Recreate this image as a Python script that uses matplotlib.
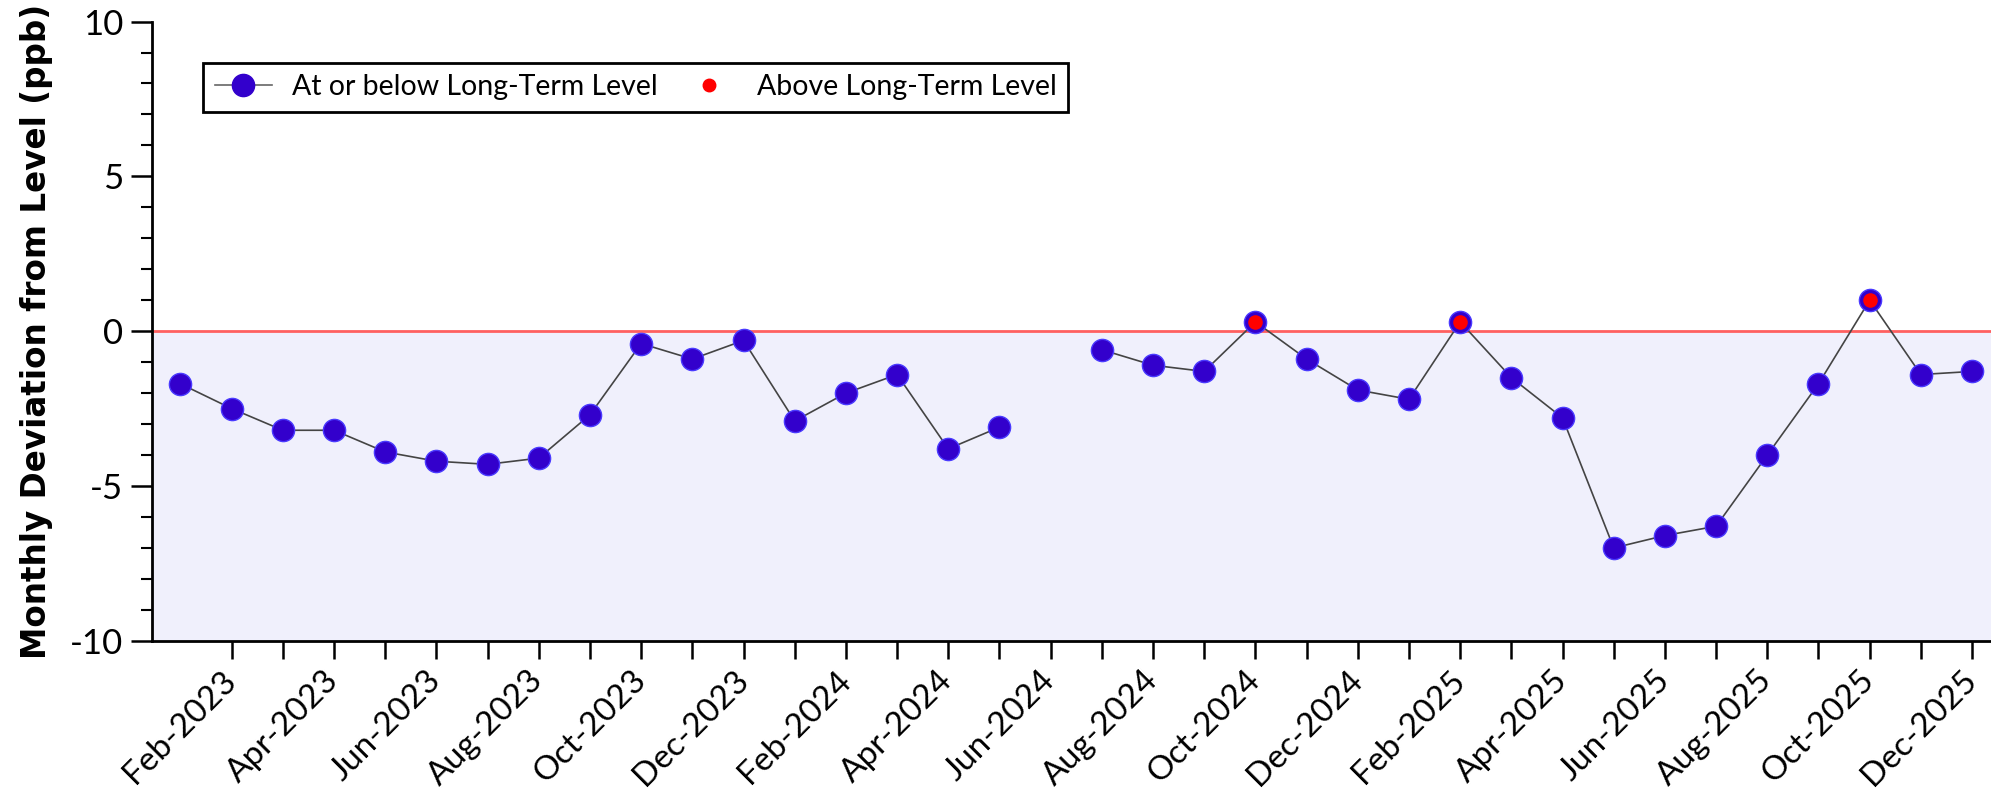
import numpy as np
import matplotlib
matplotlib.use("Agg")
import matplotlib.pyplot as plt
from matplotlib.ticker import MultipleLocator
from matplotlib.lines import Line2D

plt.rcParams["axes.unicode_minus"] = False

# monthly deviation from long-term level (ppb), Jan-2023 .. Dec-2025
months = ["Jan-2023", "Feb-2023", "Mar-2023", "Apr-2023", "May-2023", "Jun-2023",
          "Jul-2023", "Aug-2023", "Sep-2023", "Oct-2023", "Nov-2023", "Dec-2023",
          "Jan-2024", "Feb-2024", "Mar-2024", "Apr-2024", "May-2024", "Jun-2024",
          "Jul-2024", "Aug-2024", "Sep-2024", "Oct-2024", "Nov-2024", "Dec-2024",
          "Jan-2025", "Feb-2025", "Mar-2025", "Apr-2025", "May-2025", "Jun-2025",
          "Jul-2025", "Aug-2025", "Sep-2025", "Oct-2025", "Nov-2025", "Dec-2025"]
deviation = [-1.7, -2.5, -3.2, -3.2, -3.9, -4.2, -4.3, -4.1, -2.7, -0.4, -0.9, -0.3,
             -2.9, -2.0, -1.4, -3.8, -3.1, np.nan, -0.6, -1.1, -1.3, 0.3, -0.9, -1.9,
             -2.2, 0.3, -1.5, -2.8, -7.0, -6.6, -6.3, -4.0, -1.7, 1.0, -1.4, -1.3]

x = np.arange(len(months))
y = np.array(deviation, dtype=float)
above = y > 0

blue = "#3300CC"
fig = plt.figure(figsize=(19.91, 7.99), dpi=100)
ax = fig.add_axes([0.0765, 0.198, 0.9235, 0.775])

# shaded band below the long-term level
ax.axhspan(-10, 0, color="#F0F0FC", zorder=0)
ax.axhline(0, color="#FF6060", lw=2, zorder=1)

ax.plot(x, y, "-", color="#444444", lw=1.2, zorder=2)
ax.plot(x, y, "o", ms=16, color=blue, mec="#4a3aff", mew=1, zorder=3)
ax.plot(x[above], y[above], "o", ms=10.5, color="red", mec="none", zorder=4)

ax.set_xlim(-0.55, 35.37)
ax.set_ylim(-10, 10)

# x ticks every month from Feb-2023, labels every other month
tick_pos = x[1:]
ax.set_xticks(tick_pos)
ax.set_xticklabels([m if i % 2 == 0 else "" for i, m in enumerate(months[1:])],
                   rotation=45, ha="right", va="center", rotation_mode="anchor",
                   fontsize=24, family="Lato")
ax.yaxis.set_major_locator(MultipleLocator(5))
ax.yaxis.set_minor_locator(MultipleLocator(1))
for lab in ax.get_yticklabels():
    lab.set_family("Lato")
ax.tick_params(axis="y", which="major", length=15, width=1.8, labelsize=25, pad=6)
ax.tick_params(axis="y", which="minor", length=8, width=1.5)
ax.tick_params(axis="x", length=13, width=1.8, pad=12)

for s in ["top", "right"]:
    ax.spines[s].set_visible(False)
for s in ["left", "bottom"]:
    ax.spines[s].set_linewidth(2)

ax.set_ylabel("Monthly Deviation from Level (ppb)", fontsize=23.5, fontweight="bold",
              family="DejaVu Sans", labelpad=12)

handles = [Line2D([], [], color="#666666", lw=1.2, marker="o", ms=16, mfc=blue, mec=blue),
           Line2D([], [], ls="none", marker="o", ms=9, mfc="red", mec="red")]
leg = ax.legend(handles, ["At or below Long-Term Level", "Above Long-Term Level"],
                ncol=2, loc="upper left", bbox_to_anchor=(0.0277, 0.933), borderaxespad=0,
                fancybox=False, edgecolor="black", framealpha=1, handlelength=2.0,
                handletextpad=0.7, columnspacing=0.8, borderpad=0.4,
                prop={"family": "Lato", "size": 20.5})
leg.get_frame().set_linewidth(2)

fig.savefig("out.png", dpi=100)
